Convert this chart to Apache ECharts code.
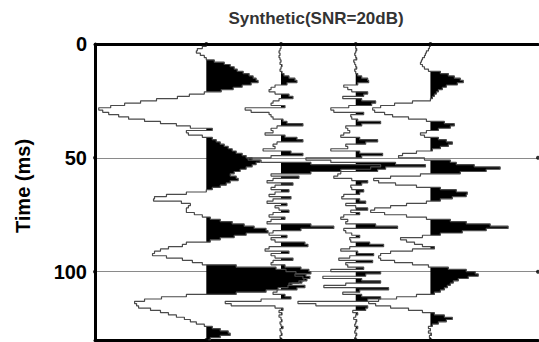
<!DOCTYPE html>
<html>
<head>
<meta charset="utf-8">
<title>Synthetic(SNR=20dB)</title>
<script src="https://cdn.jsdelivr.net/npm/echarts@6/dist/echarts.min.js"></script>
<style>
  html, body { margin: 0; padding: 0; background: #fff; }
  #chart { width: 539px; height: 342px; }
</style>
</head>
<body>
<div id="chart"></div>
<script>
// Sample interval of the traces (ms); sample i sits at time i * SAMPLE_MS.
const SAMPLE_MS = 1;
const TIME_MAX = 130;

// Trace positions along the horizontal axis.
const traceOffsets = [1, 2, 3, 4];

// Labelled times on the vertical axis.
const timeTicks = [0, 50, 100];

// Trace amplitudes, one value per millisecond (arbitrary units).
const trace1 = [
  0, -4, -9, -10, -6, -2, 0, 8, 18, 24,
  28, 31, 37, 43, 47, 50, 52, 45, 36, 27,
  15, -2, -17, -29, -50, -66, -82, -96, -108, -104,
  -98, -88, -78, -62, -46, -30, -16, 6, -20, -18,
  -4, 6, 10, 14, 18, 22, 26, 30, 36, 40,
  46, 54, 50, 46, 40, 34, 28, 24, 30, 32,
  24, 20, 14, 6, 0, -20, -40, -52, -53, -25,
  -16, -18, -20, -20, -12, -4, 4, 14, 26, 38,
  48, 60, 62, 40, 28, 14, 4, -20, -24, -38,
  -46, -52, -54, -40, -24, -14, -4, 30, 70, 80,
  90, 100, 104, 98, 96, 86, 82, 72, 60, 30,
  -20, -45, -62, -72, -70, -68, -56, -46, -38, -30,
  -22, -16, -10, -2, 6, 14, 22, 24, 14, 4,
  0
];

const trace2 = [
  0, 0, -1, -2, -1, -2, -1, 0, -1, 1,
  0, -1, 1, 3, 8, 14, 16, 6, -6, -10,
  -12, -6, 8, 12, -2, -8, -10, 4, -36, -30,
  -12, -10, -8, 2, 6, 22, -4, -10, -8, -16,
  4, 16, 22, -4, -8, -6, -18, 10, 22, -10,
  -33, -20, 30, 100, 90, 60, 30, -10, 18, -8,
  -14, 12, -6, -10, 8, -6, -12, 10, -8, -14,
  6, -6, -2, 8, -8, -12, 4, -10, -14, 30,
  53, 20, -8, -12, 6, -10, -6, 24, 27, -12,
  -16, 8, -10, -6, 12, -8, -10, 4, 20, 28,
  30, 14, 22, 26, 18, 8, 24, 16, -4, -8,
  4, 10, -20, -56, -50, -6, 2, -2, 1, -2,
  0, 1, -1, 0, 2, -1, 0, 1, -1, 0,
  0
];

const trace3 = [
  0, 0, 1, 0, -1, 0, 1, -2, -1, 0,
  1, -1, 0, 2, 6, 12, 13, 2, -12, -8,
  -4, 12, 8, -13, 6, 20, 16, -7, -25, -22,
  8, -5, -4, 2, 25, 6, -10, -8, -6, -12,
  -15, 4, 22, 10, -10, -8, -25, 4, 27, 6,
  -50, -25, 40, 70, 30, 22, -15, -18, -22, -4,
  12, 6, -5, -4, 8, 4, -12, -14, 4, 10,
  -10, 0, 12, -5, 4, -12, -15, -8, -10, 20,
  42, -12, -10, -4, 4, -6, -5, 14, 28, -6,
  -15, 2, 18, -6, -17, 17, -10, -8, 8, -25,
  25, 10, -33, 6, 25, -10, -32, 33, 4, -13,
  6, 25, 12, -58, -40, 12, 10, -3, 2, 0,
  -2, 1, 0, -1, 2, 0, -1, 1, 0, -1,
  0
];

const trace4 = [
  0, -1, -2, -4, -5, -6, -8, -9, -10, -8,
  -6, -2, 10, 18, 24, 30, 33, 27, 16, 12,
  8, 6, 4, 2, 0, -18, -36, -50, -58, -56,
  -46, -38, -22, -4, 14, 24, 20, 8, -4, -10,
  -6, 8, 16, 22, 18, 10, 2, -14, -28, -32,
  -6, 20, 26, 44, 70, 56, 30, -10, -40, -57,
  -52, -35, -14, 10, 26, 37, 36, 22, 10, -4,
  -24, -40, -56, -60, -46, -24, -4, 20, 36, 60,
  78, 56, 32, 10, -8, -30, -24, -16, -8, 4,
  -18, -40, -50, -52, -50, -36, -18, -2, 18, 36,
  45, 48, 38, 28, 23, 20, 17, 14, 10, 4,
  -14, -34, -52, -62, -55, -40, -22, -8, 4, 14,
  22, 16, 8, 2, -2, 0, -2, 1, -1, 0,
  0
];

const traces = [trace1, trace2, trace3, trace4];

// Display gain: amplitude units per trace spacing.
const GAIN = 1 / 75;

// Samples of one trace in axis coordinates [x, time].
function wiggle(offset, amps) {
  return amps.map((a, i) => [offset + a * GAIN, i * SAMPLE_MS]);
}

// Positive lobes of a trace. Each sample holds its value until the next
// sample (same convention as the stepped wiggle line), and each lobe is
// closed back onto the trace baseline.
function positiveLobes(offset, amps) {
  const lobes = [];
  let cur = null;
  for (let i = 0; i < amps.length; i++) {
    const a = amps[i];
    const t0 = i * SAMPLE_MS;
    const t1 = Math.min((i + 1) * SAMPLE_MS, TIME_MAX);
    if (a > 0) {
      if (!cur) cur = [[offset, t0]];
      cur.push([offset + a * GAIN, t0], [offset + a * GAIN, t1]);
    } else if (cur) {
      cur.push([offset, t0]);
      lobes.push(cur);
      cur = null;
    }
  }
  if (cur) {
    cur.push([offset, TIME_MAX]);
    lobes.push(cur);
  }
  return lobes;
}

const X_MIN = -0.49;
const X_MAX = 5.44;

const series = [];

// Black variable-area fill of the positive half of every trace.
traces.forEach((amps, k) => {
  const offset = traceOffsets[k];
  const lobes = positiveLobes(offset, amps);
  series.push({
    type: 'custom',
    name: 'fill' + (k + 1),
    coordinateSystem: 'cartesian2d',
    data: [[offset, 0]],
    z: 2,
    silent: true,
    renderItem: function (params, api) {
      return {
        type: 'group',
        children: lobes.map(lobe => ({
          type: 'polygon',
          shape: { points: lobe.map(p => api.coord(p)) },
          style: { fill: '#000', stroke: null }
        }))
      };
    }
  });
});

// Stepped wiggle lines.
traces.forEach((amps, k) => {
  series.push({
    type: 'line',
    name: 'trace' + (k + 1),
    data: wiggle(traceOffsets[k], amps),
    step: 'start',
    showSymbol: false,
    z: 3,
    silent: true,
    lineStyle: { color: '#4a4a4a', width: 1.2 }
  });
});

// End markers: first and last sample of each trace, and the ends of the time grid lines.
const endDots = [];
traceOffsets.forEach(o => {
  endDots.push([o, 0]);
  endDots.push([o, TIME_MAX]);
});
timeTicks.filter(t => t > 0).forEach(t => {
  endDots.push([X_MIN, t]);
  endDots.push([X_MAX, t]);
});
series.push({
  type: 'scatter',
  name: 'ends',
  data: endDots,
  symbol: 'circle',
  symbolSize: 4,
  z: 4,
  silent: true,
  itemStyle: { color: '#000' }
});

const FONT = '"Liberation Sans", Arial, sans-serif';

const chart = echarts.init(document.getElementById('chart'), null, { renderer: 'svg' });

chart.setOption({
  animation: false,
  backgroundColor: '#fff',
  graphic: [
    {
      type: 'text',
      x: 316,
      y: 18,
      style: {
        text: 'Synthetic(SNR=20dB)',
        fill: '#333',
        align: 'center',
        verticalAlign: 'middle',
        font: 'bold 17px ' + FONT
      }
    },
    {
      type: 'text',
      x: 23,
      y: 186,
      rotation: Math.PI / 2,
      style: {
        text: 'Time (ms)',
        fill: '#000',
        align: 'center',
        verticalAlign: 'middle',
        font: 'bold 20px ' + FONT
      }
    }
  ],
  grid: { left: 95, top: 44, width: 443, height: 296 },
  xAxis: [
    {
      type: 'value', position: 'top', min: X_MIN, max: X_MAX,
      axisLine: { show: true, onZero: false, lineStyle: { color: '#000', width: 3 } },
      axisTick: { show: false }, axisLabel: { show: false }, splitLine: { show: false }
    },
    {
      type: 'value', position: 'bottom', min: X_MIN, max: X_MAX,
      axisLine: { show: true, onZero: false, lineStyle: { color: '#000', width: 3 } },
      axisTick: { show: false }, axisLabel: { show: false }, splitLine: { show: false }
    }
  ],
  yAxis: {
    type: 'value',
    inverse: true,
    min: 0,
    max: TIME_MAX,
    interval: 50,
    axisLine: { show: true, onZero: false, lineStyle: { color: '#000', width: 3 } },
    axisTick: { show: false },
    axisLabel: {
      color: '#000', fontWeight: 'bold', fontSize: 20, margin: 8,
      fontFamily: FONT,
      showMaxLabel: false,
      formatter: v => (timeTicks.indexOf(v) >= 0 ? String(v) : '')
    },
    splitLine: { show: true, lineStyle: { color: '#8a8a8a', width: 1 } }
  },
  series: series
});
</script>
</body>
</html>
